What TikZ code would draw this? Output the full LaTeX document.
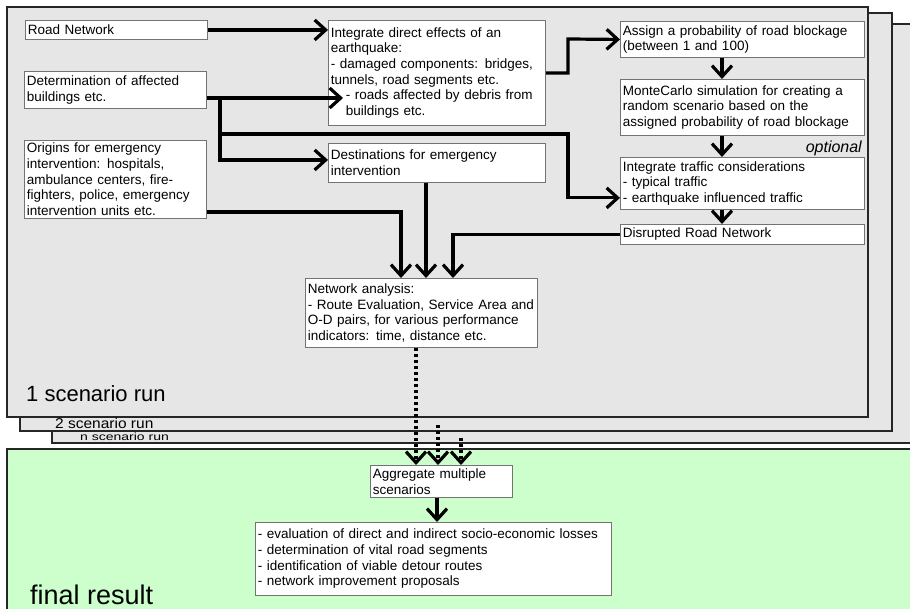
\documentclass[tikz,border=0pt]{standalone}
\usepackage{fontspec}
\setmainfont{Liberation Sans}
\usetikzlibrary{arrows.meta, calc}
\definecolor{rungray}{HTML}{E6E6E6}
\definecolor{resultgreen}{HTML}{CCFFCC}
\tikzstyle{line} = [draw, line width=3.2pt, -{Straight Barb[length=11pt,width=20pt]}]
\tikzstyle{dotline} = [line, dash pattern=on 3pt off 3pt]
\tikzstyle{box} = [rectangle, draw=black!55, fill=white, line width=0.9pt, anchor=north west, inner xsep=2.5pt, inner ysep=2pt, align=left, font=\fontsize{13.5}{15.7}\selectfont]
\tikzstyle{panel} = [draw=black!85, line width=1.3pt, fill=rungray]
\tikzstyle{runlabel} = [anchor=base west, inner sep=0pt]

\begin{document}
\begin{tikzpicture}[x=1pt, y=-1pt]
	\useasboundingbox (0,0) rectangle (910,609);
	
	\path [panel] (52,24) rectangle (915,443);
	\path [panel] (20,13) rectangle (892,431);
	\path [panel] (7,7) rectangle (868,417);
	\path [panel, fill=resultgreen] (7,449) rectangle (915,615);
	
	\node [runlabel, font=\fontsize{22}{22}\selectfont] (run1lbl) at (26,402) {1 scenario run};
	\node [runlabel, font=\fontsize{15.5}{15.5}\selectfont] (run2lbl) at (55,428.5) {\scalebox{1}[0.92]{2 scenario run}};
	\node [runlabel, font=\fontsize{14}{14}\selectfont] (run3lbl) at (80,440.5) {\scalebox{1}[0.75]{n scenario run}};
	\node [runlabel, font=\fontsize{27}{27}\selectfont] (resultlbl) at (30,604) {final result};
	
	\node [box, text width=177pt, minimum height=19pt] (road) at (25,20) {Road Network};
	\node [box, text width=177pt, minimum height=37pt] (build) at (24,71) {Determination of affected\\buildings etc.};
	\node [box, text width=177pt, minimum height=78pt] (origin) at (24,140) {Origins for emergency\\intervention: hospitals,\\ambulance centers, fire-\\fighters, police, emergency\\intervention units etc.};
	\node [box, text width=212pt, minimum height=105pt] (direct) at (328,20) {Integrate direct effects of an\\earthquake:\\- damaged components: bridges,\\tunnels, road segments etc.\\\hspace*{15pt}- roads affected by debris from\\\hspace*{15pt}buildings etc.};
	\node [box, text width=212pt, minimum height=39pt] (dest) at (328,143) {Destinations for emergency\\intervention};
	\node [box, text width=239pt, minimum height=36pt] (assign) at (620,21) {Assign a probability of road blockage\\(between 1 and 100)};
	\node [box, text width=239pt, minimum height=56pt] (monte) at (620,79) {MonteCarlo simulation for creating a\\random scenario based on the\\assigned probability of road blockage};
	\node [box, text width=239pt, minimum height=52pt] (traffic) at (620,157) {Integrate traffic considerations\\- typical traffic\\- earthquake influenced traffic};
	\node [anchor=base east, inner sep=0pt, font=\fontsize{16}{16}\selectfont\itshape] (opt) at (862,153) {optional};
	\node [box, text width=239pt, minimum height=20pt] (disrupt) at (620,224) {Disrupted Road Network};
	\node [box, text width=227pt, minimum height=69pt] (netw) at (305,278) {Network analysis:\\- Route Evaluation, Service Area and\\O-D pairs, for various performance\\indicators: time, distance etc.};
	\node [box, text width=137pt, minimum height=32pt] (aggr) at (370,465) {Aggregate multiple\\scenarios};
	\node [box, text width=351pt, minimum height=73pt] (final) at (255,522) {- evaluation of direct and indirect socio-economic losses\\- determination of vital road segments\\- identification of viable detour routes\\- network improvement proposals};
	
	\coordinate (split) at (220,98);
	\coordinate (debris) at (343,98);
	\coordinate (kink) at (568,39);
	\coordinate (bend) at (568,134);
	\coordinate (chain) at (722,0);
	\coordinate (in1) at (401,212);
	\coordinate (in2) at (426,0);
	\coordinate (in3) at (453,0);
	\coordinate (out1) at (416,0);
	\coordinate (run2) at (438,425);
	\coordinate (run3) at (461,438);
	\coordinate (agg) at (437,0);
	
	\path [line] (road.east) -- (road.east -| direct.west);
	\path [line] (build.east |- split) -- (debris);
	\path [line] (split) |- ([yshift=3pt]dest.west);
	\path [line] (split) |- (bend) |- ([yshift=12pt]traffic.south west);
	\path [line] (direct.east) -| (kink) -- (assign.west);
	
	\path [line] (assign.south -| chain) -- (monte.north -| chain);
	\path [line] (monte.south -| chain) -- (traffic.north -| chain);
	\path [line] (traffic.south -| chain) -- (disrupt.north -| chain);
	
	\path [line] (origin.east |- in1) -| (in1 |- netw.north);
	\path [line] (dest.south -| in2) -- (in2 |- netw.north);
	\path [line] (disrupt.west) -| (in3 |- netw.north);
	
	\path [dotline] (netw.south -| out1) -- (out1 |- aggr.north);
	\path [dotline] (run2) -- (run2 |- aggr.north);
	\path [dotline] (run3) -- (run3 |- aggr.north);
	\path [line] (aggr.south -| agg) -- (agg |- final.north);
\end{tikzpicture}
\end{document}
